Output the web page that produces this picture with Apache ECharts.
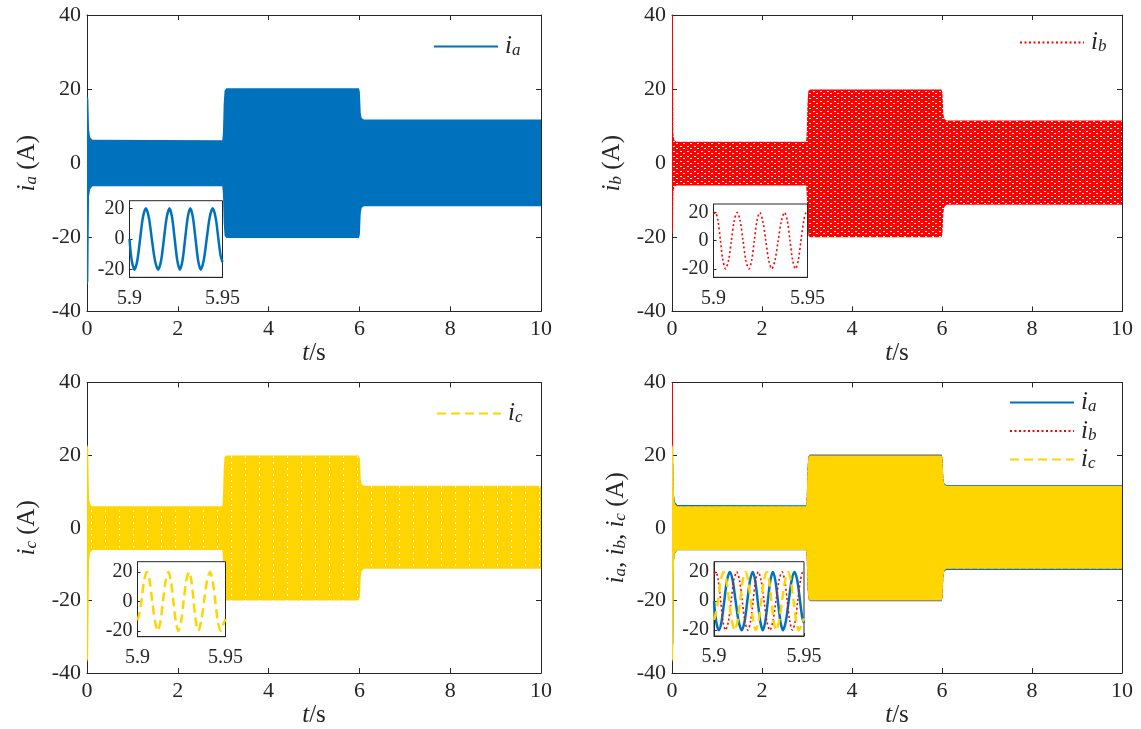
<!DOCTYPE html>
<html>
<head>
<meta charset="utf-8">
<script src="https://cdn.jsdelivr.net/npm/echarts@6/dist/echarts.min.js"></script>
<style>
  html, body { margin: 0; padding: 0; background: #fff; }
  #chart { width: 1141px; height: 729px; }
</style>
</head>
<body>
<div id="chart"></div>
<script>
// ---- data -------------------------------------------------------------
// Main axes: time 0-10 s, current -40..40 A
const timeRange = [0, 10];
const timeStep = 2;
const currentRange = [-40, 40];
const currentStep = 20;
// Zoomed window
const zoomTime = [5.9, 5.95];
const zoomTicks = [-20, 0, 20];

// Envelopes of the three phase currents over the whole run, [t (s), i (A)]
const iaUpper = [[0, 18], [0.03, 17.5], [0.045, 9], [0.07, 7], [0.12, 6.3], [2.98, 6.2], [2.995, 8.5], [3.01, 16], [3.03, 19.6], [3.07, 20.2], [5.99, 20.2], [6.01, 19.3], [6.03, 13.5], [6.05, 12.2], [6.1, 11.8], [10, 11.8]];
const iaLower = [[0, -33], [0.03, -32], [0.045, -9], [0.07, -7], [0.12, -6.2], [2.98, -6.2], [2.995, -8.5], [3.01, -16], [3.03, -19.6], [3.07, -20.2], [5.99, -20.2], [6.01, -19.3], [6.03, -13.5], [6.05, -12], [6.1, -11.6], [10, -11.6]];

const ibUpper = [[0, 40], [0.02, 40], [0.03, 8], [0.05, 6.2], [0.1, 5.8], [2.98, 5.8], [2.995, 8.5], [3.01, 16], [3.03, 19.5], [3.07, 19.9], [5.99, 19.9], [6.01, 19], [6.03, 13.5], [6.05, 12], [6.1, 11.5], [10, 11.5]];
const ibLower = [[0, -19], [0.02, -19], [0.03, -8], [0.05, -6.3], [0.1, -6], [2.98, -6], [2.995, -8.5], [3.01, -16], [3.03, -19.5], [3.07, -20], [5.99, -20], [6.01, -19], [6.03, -13.5], [6.05, -11.8], [6.1, -11.2], [10, -11.2]];

const icUpper = [[0, 23], [0.025, 22], [0.045, 8], [0.07, 6.5], [0.12, 5.9], [2.98, 5.9], [2.995, 8.5], [3.01, 16], [3.03, 19.5], [3.07, 19.9], [5.99, 19.9], [6.01, 19], [6.03, 13.5], [6.05, 12], [6.1, 11.6], [10, 11.6]];
const icLower = [[0, -37], [0.025, -36], [0.045, -9], [0.07, -6.8], [0.12, -6.1], [2.98, -6.1], [2.995, -8.5], [3.01, -16], [3.03, -19.5], [3.07, -20], [5.99, -20], [6.01, -19], [6.03, -13.5], [6.05, -11.8], [6.1, -11.3], [10, -11.3]];

// Waveforms inside the 5.9-5.95 s window, [t (s), i (A)]
const iaZoom = [[5.9, 0], [5.9012, -14], [5.9027, -20], [5.9042, -14], [5.9057, 0], [5.9072, 14], [5.9088, 20], [5.9104, 14], [5.912, 0], [5.9137, -14], [5.9154, -20], [5.917, -14], [5.9185, 0], [5.92, 14], [5.9215, 20], [5.9229, 14], [5.9243, 0], [5.9257, -14], [5.9271, -20], [5.9285, -14], [5.9299, 0], [5.9313, 14], [5.9327, 20], [5.9341, 14], [5.9355, 0], [5.9369, -14], [5.9383, -20], [5.9399, -14], [5.9415, 0], [5.9431, 14], [5.9447, 20], [5.9463, 14], [5.9478, 0], [5.949, -11], [5.95, -15]];
const ibZoom = [[5.9, 19], [5.901, 20], [5.9024, 14], [5.9037, 0], [5.905, -14], [5.9064, -20], [5.908, -14], [5.9095, 0], [5.911, 14], [5.9126, 20], [5.9142, 14], [5.9157, 0], [5.9172, -14], [5.9188, -20], [5.9203, -14], [5.9217, 0], [5.9231, 14], [5.9246, 20], [5.9262, 14], [5.9278, 0], [5.9294, -14], [5.931, -20], [5.9327, -14], [5.9344, 0], [5.9361, 14], [5.9378, 20], [5.9393, 14], [5.9407, 0], [5.9421, -14], [5.9436, -20], [5.9451, -14], [5.9465, 0], [5.948, 14], [5.9494, 20], [5.95, 19.6]];
const icZoom = [[5.9, -13], [5.9011, -8], [5.9022, 0], [5.9037, 14], [5.9053, 20], [5.9069, 14], [5.9084, 0], [5.91, -14], [5.9115, -20], [5.913, -14], [5.9145, 0], [5.916, 14], [5.9176, 20], [5.919, 14], [5.9204, 0], [5.9218, -14], [5.9232, -20], [5.9247, -14], [5.9262, 0], [5.9277, 14], [5.9293, 20], [5.9306, 14], [5.9319, 0], [5.9332, -14], [5.9345, -20], [5.9361, -14], [5.9378, 0], [5.9395, 14], [5.9412, 20], [5.9427, 14], [5.9442, 0], [5.9457, -14], [5.9472, -20], [5.9486, -16], [5.95, -12]];

// ---- styling ----------------------------------------------------------
const BLUE = '#0072BD', RED = '#FF0000', YELLOW = '#FFD500', INK = '#262626';
const SERIF = 'Liberation Serif';

const richMath = {
  i: { fontFamily: SERIF, fontStyle: 'italic', fontSize: 25, lineHeight: 26, color: INK },
  s: { fontFamily: SERIF, fontStyle: 'italic', fontSize: 17, lineHeight: 14, verticalAlign: 'bottom', color: INK },
  n: { fontFamily: SERIF, fontSize: 25, lineHeight: 26, color: INK }
};

// Small repeating textures imitating the dotted / dashed traces packed together
function texture(w, h, base, holes) {
  const c = document.createElement('canvas');
  c.width = w; c.height = h;
  const g = c.getContext('2d');
  g.fillStyle = base; g.fillRect(0, 0, w, h);
  g.fillStyle = '#ffffff';
  holes.forEach(([x, y, hw, hh]) => g.fillRect(x, y, hw, hh));
  return { image: c, repeat: 'repeat' };
}
const redTexture = texture(7, 5, RED, [[1, 1, 2, 1], [4, 3, 2, 1]]);
const yellowTexture = texture(14, 6, YELLOW, [[7, 0, 1, 2]]);

const waveStyle = {
  ia: { color: BLUE, width: 2.5, type: 'solid' },
  ib: { color: RED, width: 1.6, type: [2, 2.5] },
  ic: { color: YELLOW, width: 2.5, type: [9, 5] }
};
const zoomData = { ia: iaZoom, ib: ibZoom, ic: icZoom };

// Panel layout
const panels = [
  { grid: { left: 87, top: 15, width: 454, height: 296.4 },
    inset: { left: 129.5, top: 200.7, width: 93, height: 76.6 }, insetRange: [-25, 25],
    yName: '{i|i}{s|a}{n| (A)}', yGap: 47,
    legend: { left: 433, top: 34 }, phases: ['ia'],
    bands: [[iaUpper, iaLower, BLUE]] },
  { grid: { left: 672, top: 15, width: 450, height: 296.4 },
    inset: { left: 713.5, top: 204, width: 94, height: 73.3 }, insetRange: [-26, 26],
    yName: '{i|i}{s|b}{n| (A)}', yGap: 47,
    legend: { left: 1019, top: 30 }, phases: ['ib'],
    bands: [[ibUpper, ibLower, redTexture]] },
  { grid: { left: 87, top: 382.5, width: 454, height: 290.8 },
    inset: { left: 137.5, top: 561.7, width: 88, height: 75 }, insetRange: [-24, 27],
    yName: '{i|i}{s|c}{n| (A)}', yGap: 47,
    legend: { left: 436, top: 401 }, phases: ['ic'],
    bands: [[icUpper, icLower, yellowTexture]] },
  { grid: { left: 672, top: 382.5, width: 450, height: 290.8 },
    inset: { left: 714, top: 561.7, width: 90, height: 74.3 }, insetRange: [-24, 27],
    yName: '{i|i}{s|a}{n|, }{i|i}{s|b}{n|, }{i|i}{s|c}{n| (A)}', yGap: 43,
    legend: { left: 1009, top: 390, orient: 'vertical' }, phases: ['ia', 'ib', 'ic'],
    bands: [[iaUpper, iaLower, BLUE], [ibUpper, ibLower, redTexture], [icUpper, icLower, YELLOW]] }
];

// ---- option -----------------------------------------------------------
const grid = [], xAxis = [], yAxis = [], series = [], legend = [];

const labelFont = size => ({ fontFamily: SERIF, fontSize: size, color: INK });
const line = { show: true, onZero: false, lineStyle: { color: INK, width: 1 } };
const tick = len => ({ show: true, inside: true, length: len, lineStyle: { color: INK } });

panels.forEach((p, k) => {
  const gMain = grid.length;
  grid.push(Object.assign({ show: false }, p.grid));
  const gInset = grid.length;
  grid.push(Object.assign({ show: true, backgroundColor: '#fff', borderColor: INK, borderWidth: 1, z: 5 }, p.inset));

  const xi = xAxis.length, yi = yAxis.length;
  // bottom / left axes with labels
  xAxis.push({ gridIndex: gMain, type: 'value', position: 'bottom', min: timeRange[0], max: timeRange[1], interval: timeStep,
    axisLine: line, axisTick: tick(5),
    axisLabel: Object.assign({ margin: 7 }, labelFont(22)), splitLine: { show: false },
    name: '{i|t}{n|/s}', nameLocation: 'middle', nameGap: 27, nameTextStyle: { fontFamily: SERIF, fontSize: 25, rich: richMath } });
  // mirrored top axis
  xAxis.push({ gridIndex: gMain, type: 'value', position: 'top', min: timeRange[0], max: timeRange[1], interval: timeStep,
    axisLine: line, axisTick: tick(5), axisLabel: { show: false }, splitLine: { show: false } });
  // inset time axis
  xAxis.push({ gridIndex: gInset, type: 'value', min: zoomTime[0], max: zoomTime[1], interval: zoomTime[1] - zoomTime[0],
    axisLine: line, axisTick: tick(3), z: 6,
    axisLabel: Object.assign({ margin: 11 }, labelFont(20)), splitLine: { show: false } });

  yAxis.push({ gridIndex: gMain, type: 'value', position: 'left', min: currentRange[0], max: currentRange[1], interval: currentStep,
    axisLine: line, axisTick: tick(5),
    axisLabel: Object.assign({ margin: 6 }, labelFont(22)), splitLine: { show: false },
    name: p.yName, nameLocation: 'middle', nameRotate: 90, nameGap: p.yGap, nameTextStyle: { fontFamily: SERIF, fontSize: 25, rich: richMath } });
  yAxis.push({ gridIndex: gMain, type: 'value', position: 'right', min: currentRange[0], max: currentRange[1], interval: currentStep,
    axisLine: line, axisTick: tick(5), axisLabel: { show: false }, splitLine: { show: false } });
  yAxis.push({ gridIndex: gInset, type: 'value', min: p.insetRange[0], max: p.insetRange[1],
    axisLine: line, axisTick: Object.assign(tick(3), { customValues: zoomTicks }), z: 6,
    axisLabel: Object.assign({ margin: 5, customValues: zoomTicks }, labelFont(20)), splitLine: { show: false } });

  // dense traces drawn as filled envelopes
  p.bands.forEach(([upper, lower, fill], b) => {
    const outline = upper.concat(lower.slice().reverse());
    series.push({
      type: 'custom', name: 'band' + k + '-' + b, xAxisIndex: xi, yAxisIndex: yi,
      data: [[0, 0]], silent: true, clip: true, z: 2 + b,
      renderItem: (params, api) => ({
        type: 'polygon',
        shape: { points: outline.map(pt => api.coord(pt)) },
        style: { fill: fill, stroke: null }
      })
    });
  });

  // zoomed waveforms
  p.phases.forEach((ph, j) => {
    series.push({
      type: 'line', name: ph, xAxisIndex: xi + 2, yAxisIndex: yi + 2,
      data: zoomData[ph], smooth: 0.3, symbol: 'none', showSymbol: false, clip: true, z: 7 + j,
      lineStyle: waveStyle[ph], itemStyle: { color: waveStyle[ph].color }
    });
  });

  legend.push(Object.assign({
    data: p.phases, selectedMode: false, itemWidth: 64, itemHeight: 14, itemGap: 3, padding: 0,
    itemStyle: { opacity: 0 },
    formatter: name => '{i|i}{s|' + name.slice(1) + '}',
    textStyle: { fontFamily: SERIF, fontSize: 25, rich: richMath, padding: [0, 0, 0, 2] }
  }, p.legend));
});

const chart = echarts.init(document.getElementById('chart'));
chart.setOption({
  animation: false,
  backgroundColor: '#ffffff',
  grid, xAxis, yAxis, series, legend
});
</script>
</body>
</html>
